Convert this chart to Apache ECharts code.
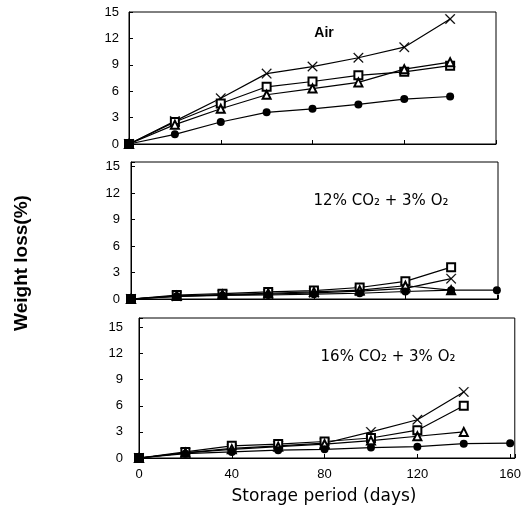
<!DOCTYPE html>
<html>
<head>
<meta charset="utf-8">
<script src="https://cdn.jsdelivr.net/npm/echarts@6/dist/echarts.min.js"></script>
<style>
html,body{margin:0;padding:0;background:#fff;}
#chart{width:524px;height:516px;}
</style>
</head>
<body>
<div id="chart"></div>
<script>
// Storage days
const days = [0, 20, 40, 60, 80, 100, 120, 140, 160];
const yTicks = [0, 3, 6, 9, 12, 15];
const xTicks = [0, 40, 80, 120, 160];

// Panel titles
const panelTitles = ['Air', '12% CO₂ + 3% O₂', '16% CO₂ + 3% O₂'];
const yTitle = 'Weight loss(%)';
const xTitle = 'Storage period (days)';

// Air
const airCross    = [0, 2.6, 5.2, 8.0, 8.8, 9.8, 11.0, 14.2];
const airSquare   = [0, 2.5, 4.6, 6.5, 7.1, 7.8, 8.2, 8.9];
const airTriangle = [0, 2.2, 4.0, 5.6, 6.3, 7.0, 8.5, 9.3];
const airCircle   = [0, 1.1, 2.5, 3.6, 4.0, 4.5, 5.1, 5.4];

// 12% CO2 + 3% O2
const ca12Cross    = [0, 0.3, 0.45, 0.55, 0.7, 0.9, 1.2, 2.3];
const ca12Square   = [0, 0.45, 0.6, 0.8, 0.95, 1.3, 2.0, 3.6];
const ca12Triangle = [0, 0.35, 0.5, 0.65, 0.8, 1.0, 1.5, 1.0];
const ca12Circle   = [0, 0.3, 0.4, 0.45, 0.55, 0.65, 0.85, 1.0, 1.0];

// 16% CO2 + 3% O2
const ca16Cross    = [0, 0.6, 1.1, 1.4, 1.7, 3.0, 4.4, 7.6];
const ca16Square   = [0, 0.7, 1.4, 1.6, 1.9, 2.3, 3.2, 6.0];
const ca16Triangle = [0, 0.6, 1.0, 1.3, 1.6, 2.0, 2.5, 3.0];
const ca16Circle   = [0, 0.5, 0.7, 0.9, 1.0, 1.2, 1.3, 1.65, 1.7];

const panels = [
  [airCross, airSquare, airTriangle, airCircle],
  [ca12Cross, ca12Square, ca12Triangle, ca12Circle],
  [ca16Cross, ca16Square, ca16Triangle, ca16Circle]
];

const crossPath = 'path://M0,0.7L0.7,0L5,4.3L9.3,0L10,0.7L5.7,5L10,9.3L9.3,10L5,5.7L0.7,10L0,9.3L4.3,5Z';
const markers = [
  {symbol: crossPath, size: 10, border: 0.3},
  {symbol: 'emptyRect', size: 8, border: 1.2},
  {symbol: 'emptyTriangle', size: 8, border: 1.2},
  {symbol: 'circle', size: 8, border: 0}
];

const grids = [
  {left: 129, right: 28, top: 12, bottom: 372},
  {left: 131, right: 26, top: 162, bottom: 217},
  {left: 139, right: 6, top: 318, bottom: 58}
];
const xMax = [160, 160.5, 162];
const yMax = [15, 15.5, 16.1];
const yLabelMargin = [10, 11, 16];

const fontFam = '"Liberation Sans", Arial, sans-serif';

const option = {
  animation: false,
  backgroundColor: '#fff',
  grid: grids.map(g => Object.assign({show: true, borderColor: '#000', borderWidth: 1, backgroundColor: 'transparent'}, g)),
  xAxis: grids.map((g, i) => ({
    type: 'value', gridIndex: i, min: 0, max: xMax[i], interval: 40,
    axisLine: {show: true, lineStyle: {color: '#000', width: 1}},
    axisTick: {show: true, inside: true, length: 4, lineStyle: {color: '#000'}},
    splitLine: {show: false},
    axisLabel: {
      show: i === 2, color: '#000', fontSize: 13, fontFamily: fontFam, margin: 10,
      formatter: v => (xTicks.indexOf(v) >= 0 ? String(v) : '')
    }
  })),
  yAxis: grids.map((g, i) => ({
    type: 'value', gridIndex: i, min: 0, max: yMax[i], interval: 3,
    axisLine: {show: true, lineStyle: {color: '#000', width: 1}},
    axisTick: {show: true, inside: true, length: 4, lineStyle: {color: '#000'}},
    splitLine: {show: false},
    axisLabel: {
      color: '#000', fontSize: 13, fontFamily: fontFam, margin: yLabelMargin[i],
      formatter: v => (yTicks.indexOf(v) >= 0 ? String(v) : '')
    }
  })),
  series: [],
  graphic: [
    {type: 'text', x: 324, y: 33, style: {text: panelTitles[0], font: 'bold 14px ' + fontFam, fill: '#000', textAlign: 'center', textVerticalAlign: 'middle'}},
    {type: 'text', x: 381, y: 201, style: {text: panelTitles[1], font: '15px "DejaVu Sans", sans-serif', fill: '#000', textAlign: 'center', textVerticalAlign: 'middle'}},
    {type: 'text', x: 388, y: 357, style: {text: panelTitles[2], font: '15px "DejaVu Sans", sans-serif', fill: '#000', textAlign: 'center', textVerticalAlign: 'middle'}},
    {type: 'text', x: 22, y: 263, rotation: Math.PI / 2, style: {text: yTitle, font: 'bold 19px ' + fontFam, fill: '#000', textAlign: 'center', textVerticalAlign: 'middle'}},
    {type: 'text', x: 324, y: 497, style: {text: xTitle, font: '17px "DejaVu Sans", sans-serif', fill: '#000', textAlign: 'center', textVerticalAlign: 'middle'}}
  ]
};

panels.forEach((sets, p) => {
  sets.forEach((vals, k) => {
    option.series.push({
      type: 'line',
      xAxisIndex: p, yAxisIndex: p,
      data: vals.map((v, j) => [days[j], v]),
      symbol: markers[k].symbol,
      symbolSize: markers[k].size,
      showAllSymbol: true,
      lineStyle: {color: '#000', width: 1.2},
      itemStyle: {color: '#000', borderColor: '#000', borderWidth: markers[k].border},
      z: 2 + k
    });
  });
});

const chart = echarts.init(document.getElementById('chart'), null, {renderer: 'canvas'});
chart.setOption(option);
</script>
</body>
</html>
